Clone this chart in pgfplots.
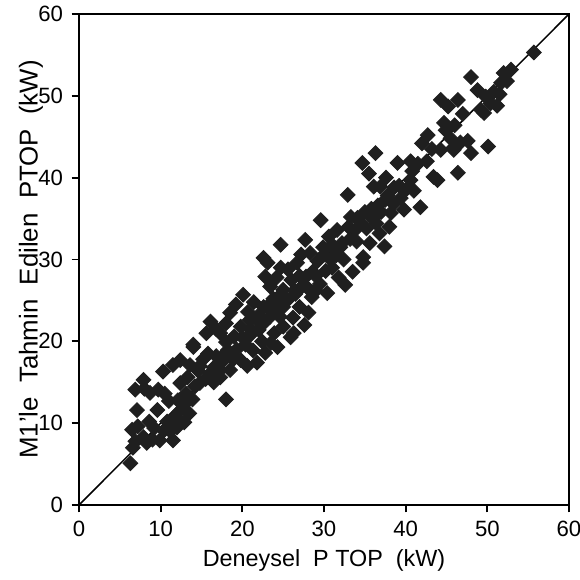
\documentclass[border=0pt]{standalone}
\usepackage{fontspec}
\setmainfont{Liberation Sans}
\usepackage{pgfplots}
\pgfplotsset{compat=1.18}

% measured vs. predicted PTOP (kW)
\pgfplotstableread{
x y
6.3 5.1
6.6 7.0
6.9 7.8
6.5 9.2
7.2 9.6
7.1 11.6
6.9 14.1
7.9 15.3
8.0 14.2
8.7 13.7
9.7 14.1
9.6 11.6
10.3 16.3
11.5 17.1
8.3 7.6
7.9 8.3
9.0 8.0
9.9 7.9
8.6 10.2
9.2 9.4
10.4 9.1
10.8 10.2
11.5 7.9
11.2 9.0
12.0 9.5
11.8 10.8
12.3 11.4
12.1 12.8
12.8 12.2
12.4 14.9
13.1 13.6
11.0 12.7
10.5 13.6
13.6 17.1
14.0 19.6
12.4 17.7
13.3 15.6
14.2 14.5
14.8 14.9
15.5 15.4
16.1 16.1
17.3 16.5
15.2 17.8
14.6 16.4
13.9 12.9
16.5 15.0
12.9 10.1
13.5 11.2
14.0 19.3
16.1 22.4
16.8 21.5
15.6 21.0
17.3 21.0
18.5 23.5
18.0 22.2
19.8 21.8
20.7 23.6
20.1 25.7
21.4 24.8
19.2 24.5
18.5 16.5
18.9 17.8
19.8 17.7
19.3 19.0
17.8 18.4
17.3 15.6
18.0 12.9
16.8 18.2
18.0 19.9
19.0 20.6
20.4 19.6
21.3 18.9
21.8 17.4
20.6 17.0
21.0 20.8
22.0 21.4
22.6 22.2
20.9 22.6
21.8 22.6
22.6 24.2
23.4 23.0
22.4 20.0
23.5 19.8
23.1 29.6
24.7 29.0
23.4 26.7
24.2 27.8
22.8 27.9
23.8 25.2
24.5 25.5
25.0 24.2
25.9 20.5
24.3 19.3
25.0 21.8
26.2 22.9
24.6 23.0
25.0 26.3
26.0 27.5
25.6 28.8
24.7 31.8
22.6 30.2
26.7 29.6
27.7 32.4
27.2 30.6
26.5 25.8
27.4 26.8
27.0 24.2
28.1 23.5
28.5 25.4
27.8 27.9
28.6 28.5
29.2 29.8
28.3 30.8
29.6 34.8
29.9 31.5
30.4 25.9
29.5 27.0
30.2 28.6
30.8 30.0
31.2 31.2
30.6 32.8
26.3 21.0
27.6 22.0
29.0 26.2
23.9 21.0
22.8 18.6
32.9 37.9
36.1 38.9
34.1 35.1
34.8 29.6
32.6 26.9
32.0 31.5
31.6 33.6
32.4 30.0
33.2 32.5
33.8 33.6
34.8 30.3
35.6 32.0
35.2 33.8
36.0 35.0
36.6 36.6
33.3 35.2
34.7 41.8
36.3 43.0
35.5 40.5
36.9 38.9
38.2 35.7
37.5 37.3
38.0 34.0
36.8 33.2
37.4 31.6
39.0 41.8
38.6 38.8
39.4 37.5
40.6 39.7
41.8 36.4
39.8 36.1
31.0 29.0
33.5 28.5
31.8 27.8
37.6 40.0
42.7 45.2
44.7 46.7
44.3 43.4
46.4 40.6
43.9 39.7
43.4 40.1
42.0 44.2
45.2 48.7
44.3 49.5
46.4 49.5
45.9 43.4
46.7 44.3
48.0 43.0
50.1 43.8
44.9 45.8
41.5 41.7
42.6 42.0
43.2 43.5
40.6 42.0
41.0 38.4
45.5 44.8
47.6 44.5
48.0 52.3
48.8 50.7
49.2 48.3
49.6 47.9
50.4 49.1
51.7 51.6
52.0 52.8
52.9 53.2
55.7 55.3
50.8 50.5
51.2 48.8
49.8 49.9
52.4 51.8
51.5 50.2
47.0 47.8
46.0 46.4
45.8 43.6
25.5 25.0
26.4 26.2
27.0 28.0
28.0 26.5
29.0 28.0
30.0 30.6
31.0 31.8
31.5 30.5
32.2 32.0
33.0 34.0
34.0 32.2
34.5 34.5
35.0 35.8
35.8 36.2
36.4 34.4
37.0 35.8
37.8 37.8
38.5 36.8
39.2 39.0
40.0 38.5
40.8 40.8
20.0 20.5
21.0 21.5
22.0 23.2
23.0 24.2
23.8 23.5
24.5 24.5
19.0 18.2
18.2 18.9
17.5 17.5
16.5 16.8
15.8 18.5
14.8 17.0
}\ptopdata

\begin{document}
\begin{tikzpicture}
\path[use as bounding box] (-1.1286cm,-1.0714cm) rectangle (7.1571cm,7.2143cm);
\begin{axis}[
  scale only axis,
  width=7cm, height=7.014cm,
  xmin=0, xmax=60, ymin=0, ymax=60,
  xtick={0,10,...,60}, ytick={0,10,...,60},
  xtick pos=left, ytick pos=left,
  tick align=outside, major tick length=3pt,
  axis line style={line width=0.9pt},
  every tick/.style={line width=0.8pt, black},
  tick label style={font=\fontsize{9}{10}\selectfont},
  /pgf/number format/assume math mode=true,
  xlabel={Deneysel\ \ P TOP\ \ (kW)},
  ylabel={M1'le\ \ Tahmin\ \ Edilen\ \ PTOP\ \ (kW)},
  xlabel style={font=\fontsize{9.5}{11}\selectfont, at={(axis description cs:0.5,-0.112)}, anchor=center},
  ylabel style={font=\fontsize{10.5}{12}\selectfont, at={(axis description cs:-0.098,0.5)}, anchor=center},
  clip=false,
]
\addplot[black, line width=0.6pt, no marks] coordinates {(0,0) (60,60)};
\addplot[only marks, mark=square*, mark size=2.1pt,
  mark options={rotate=45, fill=black!88, draw=black!88}] table[x=x, y=y] {\ptopdata};
\end{axis}
\end{tikzpicture}
\end{document}
